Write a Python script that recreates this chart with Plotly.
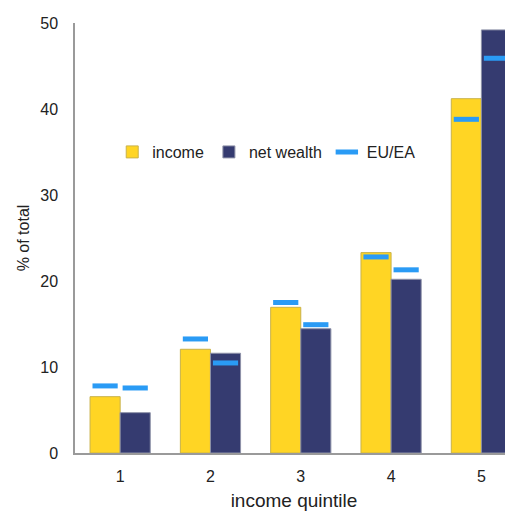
import plotly.graph_objects as go

# 数据：收入五分位
quintiles = [1, 2, 3, 4, 5]
income = [6.55, 12.06, 16.94, 23.3, 41.2]
net_wealth = [4.69, 11.6, 14.45, 20.2, 49.2]
eu_income = [7.8, 13.26, 17.5, 22.8, 38.8]
eu_wealth = [7.56, 10.47, 14.92, 21.3, 45.9]

half = 1 / 6  # 每组两根柱，各占 1/3

fig = go.Figure()
fig.add_trace(go.Bar(
    x=quintiles, y=income, name='income',
    marker=dict(color='#FFD524', line=dict(color='#C9B24A', width=1)),
))
fig.add_trace(go.Bar(
    x=quintiles, y=net_wealth, name='net wealth',
    marker=dict(color='#353B70', line=dict(color='#8E92A8', width=1)),
))
# EU/EA 参考值
fig.add_trace(go.Scatter(
    x=[q - half for q in quintiles], y=eu_income, name='EU/EA', mode='markers',
    marker=dict(symbol='line-ew', size=18, line=dict(color='#2A9BF5', width=5)),
))
fig.add_trace(go.Scatter(
    x=[q + half for q in quintiles], y=eu_wealth, name='EU/EA', mode='markers',
    showlegend=False,
    marker=dict(symbol='line-ew', size=18, line=dict(color='#2A9BF5', width=5)),
))

fig.update_layout(
    width=505, height=503,
    template='plotly_white',
    paper_bgcolor='white', plot_bgcolor='white',
    font=dict(family='Liberation Sans, Arial', color='#222222', size=16),
    barmode='group', bargap=1 / 3, bargroupgap=0,
    margin=dict(l=67, r=0, t=15, b=58, autoexpand=False),
    showlegend=True,
    legend=dict(orientation='h', x=0.085, y=0.7, yanchor='middle',
                font=dict(size=16), bgcolor='rgba(0,0,0,0)',
                tracegroupgap=0),
    xaxis=dict(range=[0.5, 5.35], tickvals=quintiles, showgrid=False,
               showline=True, linecolor='#9A9A9A', linewidth=1.5, zeroline=False,
               ticks='', automargin=False, ticklabelstandoff=8,
               title=dict(text='income quintile', standoff=18)),
    yaxis=dict(range=[0, 50], dtick=10, showgrid=False, showline=True,
               linecolor='#9A9A9A', linewidth=1.5, zeroline=False, ticks='',
               automargin=False, ticklabelstandoff=12,
               title=dict(text='% of total', font=dict(size=16), standoff=7)),
)

fig.write_html("out.html")
